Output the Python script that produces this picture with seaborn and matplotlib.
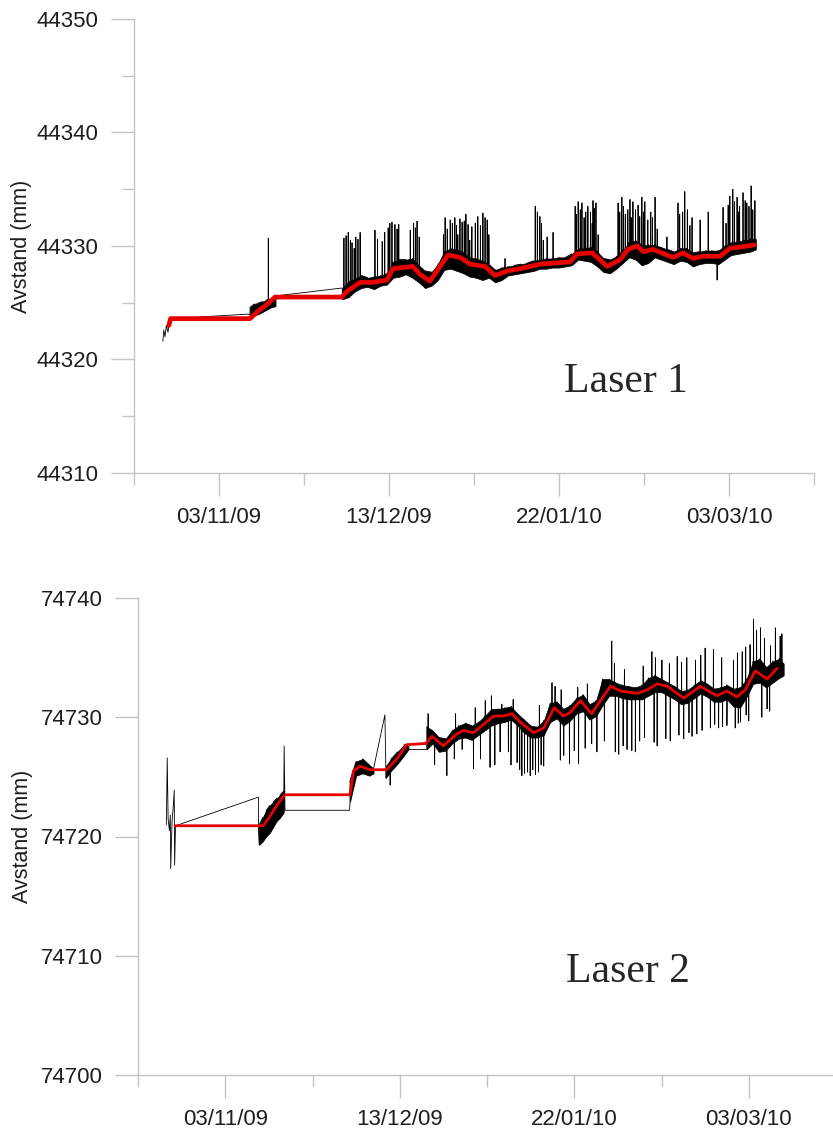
import numpy as np
import pandas as pd
import matplotlib
matplotlib.use("Agg")
import matplotlib.pyplot as plt
import matplotlib.dates as mdates
from matplotlib.ticker import FixedLocator
import seaborn as sns

# day offsets counted from 14/10/09 (left end of the date axis)
START = pd.Timestamp("2009-10-14")

# ---------------- Laser 1 ----------------
l1_band_days = [27.3, 28.3, 29.3, 30.3, 31.3, 32.3, 33.3,
                49.0, 50.5, 52.0, 53.5, 55.0, 56.5, 58.0, 59.5, 61.0, 62.5, 64.0, 65.5, 67.0, 68.5,
                70.0, 71.5, 73.0, 74.5, 76.0, 77.5, 79.0, 80.5, 82.0, 83.5, 85.0, 86.5, 88.0, 89.5,
                91.0, 92.5, 94.0, 95.5, 97.0, 98.5, 100.0, 101.5, 103.0, 104.5, 106.0, 107.5, 109.0,
                110.5, 112.0, 113.5, 115.0, 116.5, 118.0, 119.5, 121.0, 122.5, 124.0, 125.5, 127.0,
                128.5, 130.0, 131.5, 133.0, 134.5, 136.0, 137.5, 139.0, 140.5, 142.0, 143.5, 145.0, 146.3]
l1_band_lo = [44323.9, 44323.9, 44324.0, 44324.2, 44324.4, 44324.6, 44324.7,
              44325.3, 44325.5, 44326.0, 44326.3, 44326.4, 44326.2, 44326.5, 44326.6, 44327.2, 44327.3,
              44327.5, 44327.2, 44326.8, 44326.3, 44326.5, 44327.0, 44327.9, 44328.0, 44327.8, 44327.6,
              44327.3, 44327.2, 44327.0, 44327.2, 44326.8, 44327.0, 44327.4, 44327.5, 44327.6, 44327.7,
              44327.8, 44328.0, 44328.0, 44328.1, 44328.1, 44328.2, 44328.3, 44328.8, 44328.7, 44328.6,
              44328.2, 44327.7, 44327.6, 44328.0, 44328.5, 44329.0, 44328.8, 44328.3, 44328.5, 44329.0,
              44328.8, 44328.6, 44328.4, 44328.7, 44328.6, 44328.2, 44328.4, 44328.5, 44328.5, 44328.4,
              44328.8, 44329.2, 44329.3, 44329.4, 44329.5, 44329.7]
l1_band_hi = [44324.6, 44324.9, 44325.0, 44325.1, 44325.3, 44325.4, 44325.6,
              44326.3, 44326.9, 44327.1, 44327.4, 44327.2, 44327.3, 44327.4, 44327.6, 44328.6, 44328.8,
              44328.8, 44328.9, 44328.3, 44327.8, 44327.7, 44328.4, 44329.5, 44329.8, 44329.7, 44329.4,
              44329.0, 44328.9, 44328.7, 44328.4, 44327.9, 44328.1, 44328.2, 44328.3, 44328.4, 44328.5,
              44328.7, 44328.8, 44328.9, 44328.9, 44329.0, 44329.0, 44329.3, 44329.8, 44329.8, 44329.9,
              44329.5, 44328.9, 44328.8, 44329.1, 44329.6, 44330.3, 44330.5, 44330.1, 44330.1, 44330.1,
              44329.9, 44329.7, 44329.5, 44329.8, 44329.8, 44329.4, 44329.5, 44329.6, 44329.6, 44329.6,
              44330.0, 44330.3, 44330.4, 44330.5, 44330.6, 44330.6]
# isolated readings (start of record and gap ends)
l1_raw_days = [6.8, 7.0, 7.3, 7.6, 8.0, 8.3, 8.6, 27.0]
l1_raw_vals = [44321.6, 44322.6, 44322.0, 44323.0, 44322.4, 44323.3, 44323.6, 44324.0]
# short spikes out of the band
l1_spike_days = [31.6,
                 49.4, 49.9, 50.4, 50.9, 51.3, 51.8, 52.2, 52.7, 53.2,
                 56.7, 57.3, 58.4, 59.0, 59.8, 60.2, 60.7, 61.4, 61.9, 62.3,
                 65.0, 65.8, 66.2, 66.6, 67.1,
                 72.8, 73.2, 73.7, 74.4, 74.9, 75.5, 75.9, 76.2, 76.7, 77.2, 77.7, 78.1, 78.6, 79.0,
                 79.5, 80.3, 80.9, 81.5, 82.1, 82.6, 83.1, 83.5,
                 87.3, 94.4, 94.9, 95.5, 95.9, 96.3, 97.2, 98.6,
                 103.8, 104.1, 104.5, 105.0, 105.4, 105.9, 106.3, 106.8, 107.4, 107.8, 108.0, 108.3,
                 108.7, 109.2,
                 113.9, 114.3, 114.8, 115.2, 115.6, 116.2, 116.7, 117.0, 117.4, 118.0, 118.6, 119.0,
                 119.5, 119.9, 120.2, 120.9, 121.6, 122.0, 122.6, 123.1,
                 125.4, 128.0, 128.4, 129.1, 129.6, 130.2, 130.8, 131.3, 133.2, 135.1, 137.2,
                 138.6, 139.3, 139.8, 140.2, 140.9, 141.3, 141.9, 142.2, 142.5, 143.3, 143.8, 144.2,
                 144.7, 145.2, 145.6, 146.1]
l1_spike_vals = [44330.7,
                 44330.7, 44330.9, 44331.2, 44330.5, 44330.3, 44329.8, 44330.8, 44330.6, 44331.2,
                 44331.4, 44330.6, 44330.4, 44331.2, 44331.6, 44332.0, 44332.1, 44331.9, 44331.5, 44331.9,
                 44331.4, 44332.0, 44331.6, 44332.2, 44330.8,
                 44331.0, 44332.5, 44331.5, 44332.3, 44332.0, 44332.5, 44331.8, 44331.0, 44332.4, 44332.1,
                 44332.2, 44332.8, 44331.9, 44330.5,
                 44331.7, 44332.0, 44332.6, 44331.8, 44332.9, 44332.5, 44332.3, 44331.0,
                 44328.9, 44333.5, 44333.0, 44332.6, 44332.0, 44330.5, 44330.8, 44331.2,
                 44333.5, 44332.8, 44333.9, 44333.2, 44333.8, 44332.5, 44333.0, 44333.5, 44333.0, 44332.0,
                 44334.0, 44333.3, 44333.8, 44331.0,
                 44333.8, 44333.0, 44334.3, 44333.5, 44332.8, 44333.2, 44334.1, 44332.5, 44333.9, 44333.2,
                 44333.6, 44332.6, 44334.3, 44333.0, 44333.9, 44332.3, 44333.0, 44332.5, 44334.3, 44331.5,
                 44330.8, 44333.8, 44332.8, 44333.0, 44334.8, 44333.2, 44331.8, 44332.5, 44332.3, 44333.0,
                 44327.0,
                 44333.4, 44332.0, 44333.6, 44334.4, 44335.0, 44333.9, 44334.3, 44333.0, 44333.5, 44334.7,
                 44334.0, 44333.8, 44333.5, 44335.3, 44333.2, 44334.0]
# smoothed curve (red)
l1_red_days = [8.2, 8.6, 27.3, 29.6, 30.8, 33.2, 48.9, 50.1, 53.2, 56.2, 59.5, 60.9, 65.6, 67.3,
               69.6, 73.9, 76.7, 79.1, 82.6, 84.9, 87.8, 90.8, 95.5, 102.6, 104.2, 107.8, 111.3,
               114.4, 116.2, 118.4, 119.8, 122.1, 126.8, 129.2, 131.5, 133.9, 137.9, 140.2, 144.5, 146.0]
l1_red_vals = [44323.0, 44323.6, 44323.6, 44324.4, 44324.7, 44325.5, 44325.5, 44326.0, 44326.8,
               44326.8, 44327.0, 44328.0, 44328.2, 44327.5, 44326.9, 44329.2, 44329.0, 44328.4,
               44328.2, 44327.4, 44327.8, 44328.0, 44328.4, 44328.6, 44329.3, 44329.4, 44328.2,
               44328.8, 44329.7, 44330.0, 44329.5, 44329.7, 44329.0, 44329.4, 44328.9, 44329.1,
               44329.1, 44329.8, 44330.0, 44330.1]

# ---------------- Laser 2 ----------------
l2_band_days = [27.8, 28.6, 29.4, 30.2, 31.0, 31.8, 32.6, 33.4,
                48.6, 50.0, 51.5, 53.0, 54.0, 56.8, 58.0, 59.5, 61.0, 62.0,
                66.2, 67.5, 69.0, 70.5, 72.0, 73.5, 75.0, 76.5, 78.0, 79.5, 81.0, 82.5, 84.0, 85.5,
                87.0, 88.5, 90.0, 91.5, 93.0, 94.5, 96.0, 97.5, 99.0, 100.5, 102.0, 103.5, 105.0,
                106.5, 108.0, 109.5, 111.0, 112.5, 114.0, 115.5, 117.0, 118.5, 120.0, 121.5, 123.0,
                124.5, 126.0, 127.5, 129.0, 130.5, 132.0, 133.5, 135.0, 136.5, 138.0, 139.5, 141.0,
                142.5, 144.0, 145.5, 147.0, 148.0]
l2_band_lo = [74719.3, 74719.6, 74720.0, 74720.3, 74720.8, 74721.3, 74721.6, 74722.0,
              74722.9, 74725.1, 74725.3, 74725.1, 74725.3, 74724.9, 74725.5, 74726.1, 74726.8, 74727.3,
              74727.3, 74727.8, 74727.1, 74727.2, 74727.8, 74728.2, 74728.3, 74728.1, 74728.5, 74728.9,
              74729.3, 74729.5, 74729.6, 74729.8, 74729.3, 74728.7, 74728.3, 74728.3, 74728.5, 74729.6,
              74729.9, 74729.3, 74729.7, 74730.3, 74730.5, 74729.8, 74730.1, 74731.0, 74731.8, 74731.8,
              74731.6, 74731.5, 74731.5, 74731.5, 74731.8, 74732.1, 74732.1, 74731.8, 74731.5, 74731.1,
              74731.2, 74731.6, 74732.0, 74731.7, 74731.3, 74731.3, 74731.5, 74730.9, 74730.8, 74731.7,
              74732.8, 74732.9, 74732.5, 74732.9, 74733.3, 74733.5]
l2_band_hi = [74721.0, 74721.6, 74722.2, 74722.6, 74722.9, 74723.2, 74723.5, 74723.8,
              74724.7, 74726.3, 74726.5, 74726.0, 74725.7, 74725.9, 74726.5, 74727.1, 74727.7, 74727.7,
              74729.2, 74728.9, 74728.3, 74728.2, 74728.9, 74729.3, 74729.5, 74729.3, 74729.6, 74730.1,
              74730.7, 74730.7, 74730.8, 74730.9, 74730.3, 74729.8, 74729.3, 74729.2, 74729.7, 74731.2,
              74731.3, 74730.7, 74731.0, 74731.6, 74731.9, 74731.1, 74731.4, 74733.2, 74733.2, 74732.9,
              74732.7, 74732.6, 74732.5, 74732.7, 74733.3, 74733.5, 74733.2, 74732.9, 74732.6, 74732.2,
              74732.3, 74732.7, 74733.1, 74732.8, 74732.4, 74732.5, 74732.7, 74732.4, 74732.5, 74733.2,
              74734.7, 74734.9, 74734.2, 74734.7, 74734.9, 74734.5]
l2_raw_days = [6.5, 6.7, 6.9, 7.2, 7.4, 7.5, 7.8, 8.1, 8.3, 8.4, 8.6, 27.6, 27.65,
               33.5, 33.7, 48.5, 56.6]
l2_raw_vals = [74721.0, 74726.6, 74721.5, 74720.5, 74721.8, 74717.3, 74721.2, 74722.6, 74723.9,
               74717.6, 74720.9, 74723.3, 74720.5,
               74727.6, 74722.2, 74722.2, 74730.2]
l2_spike_days = [57.8, 66.5, 68.0,
                 70.8, 72.5, 72.8, 74.3, 76.9, 77.3, 78.5, 79.6, 80.7, 81.0, 81.8, 83.0, 83.4, 84.9,
                 85.5, 86.0, 86.9, 87.5, 88.0, 88.6, 89.3, 89.9, 90.5, 91.1, 91.8, 92.0, 92.4, 93.0,
                 94.9, 95.6, 96.8, 97.0, 97.6, 98.9, 100.0, 100.8, 101.0, 102.5, 103.0, 104.0,
                 105.2, 106.9, 108.6, 109.2, 109.4, 110.2, 111.2, 111.5, 112.1, 113.2, 114.0, 115.0,
                 115.8, 116.1, 117.8, 118.3, 118.6, 119.0, 120.1, 121.0, 121.8, 122.0, 123.6, 124.0,
                 124.6, 125.1, 125.8, 126.3, 127.0, 127.8, 128.1, 129.0, 129.3, 130.0, 131.2, 131.9,
                 132.2, 133.1, 133.8, 134.0, 135.0, 136.5, 136.9, 137.4, 137.6, 138.1, 138.5, 139.3,
                 139.4, 140.0, 140.3, 141.1, 141.8, 142.7, 143.0, 143.6, 144.2, 144.8, 145.0, 146.1,
                 147.2, 147.6]
l2_spike_vals = [74724.3, 74730.3, 74726.0,
                 74725.1, 74726.5, 74730.3, 74727.3, 74725.7, 74730.8, 74726.5, 74731.4, 74725.8,
                 74731.8, 74726.0, 74727.1, 74731.1, 74727.1,
                 74726.0, 74731.5, 74726.2, 74725.6, 74725.1, 74725.3, 74725.4, 74725.1, 74725.6,
                 74725.2, 74725.4, 74731.0, 74726.0, 74725.9,
                 74732.9, 74732.6, 74726.4, 74732.3, 74726.8, 74726.1, 74727.2, 74732.5, 74726.1,
                 74727.4, 74732.8, 74727.8,
                 74727.1, 74728.0, 74736.4, 74734.5, 74727.1, 74726.9, 74727.6, 74734.0, 74727.3,
                 74727.2, 74727.1, 74728.0,
                 74734.3, 74728.3, 74735.5, 74727.9, 74735.0, 74727.6, 74734.8, 74728.2, 74734.5,
                 74728.0, 74735.1, 74728.5,
                 74734.6, 74728.2, 74735.0, 74728.7, 74728.4, 74734.8, 74728.6, 74735.2, 74728.9,
                 74735.8, 74729.1, 74735.7,
                 74729.4, 74729.1, 74735.0, 74729.2, 74729.3, 74734.8, 74729.1, 74735.4, 74729.5,
                 74729.6, 74735.5, 74735.9,
                 74730.2, 74729.7, 74736.1, 74738.2, 74737.3, 74737.5, 74730.0, 74736.6, 74730.7,
                 74730.5, 74736.0, 74737.5,
                 74736.8, 74737.0]
l2_red_days = [8.5, 28.7, 29.9, 31.8, 33.0, 33.7, 48.6, 49.4, 50.9, 53.2, 57.0, 59.3, 61.6, 66.0,
               67.4, 70.0, 73.1, 74.6, 76.9, 79.2, 81.5, 83.8, 85.7, 87.6, 90.7, 93.0, 95.4, 97.5,
               99.1, 101.4, 104.0, 106.4, 108.3, 110.6, 114.4, 116.7, 119.0, 121.3, 125.1, 128.9,
               132.7, 135.0, 137.3, 139.2, 141.5, 144.2, 146.5]
l2_red_vals = [74720.9, 74720.9, 74721.5, 74722.6, 74723.2, 74723.5, 74723.5, 74725.5, 74725.9,
               74725.6, 74725.6, 74726.5, 74727.7, 74727.8, 74728.4, 74727.6, 74728.6, 74728.9,
               74728.7, 74729.4, 74730.1, 74730.1, 74730.3, 74729.6, 74728.7, 74729.1, 74730.8,
               74730.1, 74730.4, 74731.4, 74730.3, 74731.6, 74732.6, 74732.2, 74732.0, 74732.3,
               74732.8, 74732.6, 74731.6, 74732.6, 74731.8, 74732.2, 74731.7, 74732.3, 74733.9,
               74733.2, 74734.1]

major_dates = ["2009-11-03", "2009-12-13", "2010-01-22", "2010-03-03"]
minor_dates = ["2009-10-14", "2009-11-23", "2010-01-02", "2010-02-11", "2010-03-23"]
x_range = ["2009-10-14", "2010-03-23"]

AXIS_GREY = "#c4c4c4"
RED = "#e60000"


def to_dates(days):
    return START + pd.to_timedelta(np.asarray(days, dtype=float), unit="D")


def raw_trace(band_days, lo, hi, raw_days, raw_vals, spike_days, spike_vals):
    # raw record: zigzag between the band edges, isolated readings, and hair-thin spikes
    rows = []
    for i, (d, a, b) in enumerate(zip(band_days, lo, hi)):
        rows += [(d, a), (d, b)] if i % 2 == 0 else [(d, b), (d, a)]
    rows += list(zip(raw_days, raw_vals))
    mid = (np.asarray(lo) + np.asarray(hi)) / 2
    for d, v in zip(spike_days, spike_vals):
        base = np.interp(d, band_days, mid)
        rows += [(d - 0.04, base), (d, v), (d + 0.04, base)]
    df = pd.DataFrame(rows, columns=["day", "val"]).sort_values("day", kind="stable")
    df["date"] = to_dates(df["day"])
    return df


def draw_panel(ax, band_days, lo, hi, raw_days, raw_vals, spike_days, spike_vals,
               red_days, red_vals, red_lw, yticks, yminor, label, label_xy):
    df = raw_trace(band_days, lo, hi, raw_days, raw_vals, spike_days, spike_vals)
    # solid core of the noisy band, one piece per recording period
    days = np.asarray(band_days)
    breaks = np.where(np.diff(days) > 2.5)[0] + 1
    for idx in np.split(np.arange(len(days)), breaks):
        ax.fill_between(to_dates(days[idx]), np.asarray(lo)[idx], np.asarray(hi)[idx],
                        color="black", lw=0.5, zorder=2)
    sns.lineplot(data=df, x="date", y="val", sort=False, estimator=None,
                 color="black", lw=0.6, ax=ax, zorder=3)
    sns.lineplot(x=to_dates(red_days), y=red_vals, sort=False, estimator=None,
                 color=RED, lw=red_lw, ax=ax, zorder=4, solid_joinstyle="round")

    ax.set_xlim(pd.to_datetime(x_range))
    ax.set_ylim(yticks[0], yticks[-1])
    ax.set_yticks(yticks)
    ax.set_yticks(yminor, minor=True)
    ax.xaxis.set_major_locator(FixedLocator(mdates.date2num(pd.to_datetime(major_dates))))
    ax.xaxis.set_minor_locator(FixedLocator(mdates.date2num(pd.to_datetime(minor_dates))))
    ax.xaxis.set_major_formatter(mdates.DateFormatter("%d/%m/%y"))
    ax.set_yticklabels([str(v) for v in yticks])

    for side in ["top", "right"]:
        ax.spines[side].set_visible(False)
    for side in ["left", "bottom"]:
        ax.spines[side].set_color(AXIS_GREY)
        ax.spines[side].set_linewidth(1.0)
    ax.tick_params(which="both", bottom=True, left=True, direction="out")
    ax.tick_params(which="major", length=16.5, width=1.0, color=AXIS_GREY,
                   labelsize=16, labelcolor="#1e1e1e")
    ax.tick_params(which="minor", length=8.5, width=1.0, color=AXIS_GREY)
    ax.tick_params(axis="y", which="major", pad=9)
    ax.tick_params(axis="x", which="major", pad=8)

    ax.set_xlabel("")
    ax.set_ylabel("Avstand (mm)", fontsize=15.5, color="#1e1e1e")
    ax.yaxis.set_label_coords(-0.15, 0.5)
    ax.text(label_xy[0], label_xy[1], label, transform=ax.transAxes, ha="center",
            va="baseline", fontsize=30, family=["Liberation Serif", "DejaVu Serif"])


sns.set_style("white")
plt.rcParams["font.family"] = ["Liberation Sans", "DejaVu Sans"]

fig = plt.figure(figsize=(8.33, 11.33), dpi=100)
ax1 = fig.add_axes([134 / 833, 1 - 473 / 1133, 680 / 833, 454 / 1133])
ax2 = fig.add_axes([138 / 833, 1 - 1075 / 1133, 698 / 833, 477 / 1133])

draw_panel(ax1, l1_band_days, l1_band_lo, l1_band_hi, l1_raw_days, l1_raw_vals,
           l1_spike_days, l1_spike_vals, l1_red_days, l1_red_vals, 3.4,
           [44310, 44320, 44330, 44340, 44350], [44315, 44325, 44335, 44345],
           "Laser 1", (0.724, 0.178))
draw_panel(ax2, l2_band_days, l2_band_lo, l2_band_hi, l2_raw_days, l2_raw_vals,
           l2_spike_days, l2_spike_vals, l2_red_days, l2_red_vals, 2.0,
           [74700, 74710, 74720, 74730, 74740], [],
           "Laser 2", (0.702, 0.194))

fig.savefig("out.png", dpi=100)
